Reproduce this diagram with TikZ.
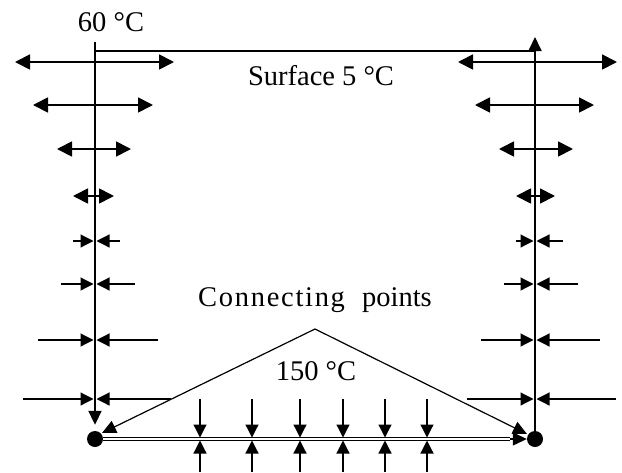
\documentclass[tikz,border=0pt]{standalone}
\usepackage{fontspec}
\setmainfont{Liberation Serif}
\usetikzlibrary{arrows.meta}
\begin{document}
\begin{tikzpicture}[x=1pt,y=-1pt,
  lbl/.style={font=\fontsize{28.5}{32}\selectfont, inner sep=0pt},
  dot/.style={circle, fill=black, minimum size=16pt, inner sep=0pt},
  axis/.style={line width=1.9pt},
  dbl/.style={line width=1.8pt, {Triangle[length=15pt,width=15pt]}-{Triangle[length=15pt,width=15pt]}},
  inw/.style={line width=1.2pt, -{Triangle[length=13pt,width=13pt]}},
  thinl/.style={line width=1.2pt}]
\useasboundingbox (0,0) rectangle (622,472);
% main points
\node[dot] (LD) at (95,439) {};
\node[dot] (RD) at (535,439) {};
\coordinate (LT) at (95,42);
\coordinate (RT) at (535,37);
\coordinate (S1) at (95,51);
\coordinate (S2) at (535,51);
\coordinate (A) at (315,329);
\coordinate (BW) at (510,439);
% axes
\draw[axis, -{Triangle[length=14pt,width=13pt]}, shorten >=6pt] (LT) -- (LD.north);
\draw[axis, -{Triangle[length=14pt,width=13pt]}] (RD.north) -- (RT);
\draw[thinl] (S1) -- (S2);
% bottom double line
\draw[line width=3.4pt] (LD.east) -- (BW);
\draw[white, line width=1.2pt] (LD.east) -- (BW);
\draw[line width=1.2pt, -{Triangle[length=14pt,width=13pt]}] (BW) -- (RD.west);
% connecting points
\draw[thinl, -{Triangle[length=14pt,width=13pt]}] (A) -- (102,433);
\draw[thinl, -{Triangle[length=14pt,width=13pt]}] (A) -- (527,434);
% left double arrows
\foreach \y/\a/\b in {62/15/174, 105/33/153, 149/57/131, 196/73/114}{
  \coordinate (la\y) at (\a,\y);
  \coordinate (lb\y) at (\b,\y);
  \draw[dbl] (la\y) -- (lb\y);
}
% right double arrows
\foreach \y/\a/\b in {62/458/617, 105/475/594, 149/499/573, 196/516/555}{
  \coordinate (ra\y) at (\a,\y);
  \coordinate (rb\y) at (\b,\y);
  \draw[dbl] (ra\y) -- (rb\y);
}
% left inward arrows
\foreach \y/\a/\b in {241/73/120, 284/61/135, 340/38/158, 399/23/171}{
  \coordinate (lia\y) at (\a,\y);
  \coordinate (lib\y) at (\b,\y);
  \coordinate (lic\y) at (93.5,\y);
  \coordinate (lid\y) at (96.5,\y);
  \draw[inw] (lia\y) -- (lic\y);
  \draw[inw] (lib\y) -- (lid\y);
}
% right inward arrows
\foreach \y/\a/\b in {241/516/563, 284/504/578, 340/481/600, 399/467/616}{
  \coordinate (ria\y) at (\a,\y);
  \coordinate (rib\y) at (\b,\y);
  \coordinate (ric\y) at (533.5,\y);
  \coordinate (rid\y) at (536.5,\y);
  \draw[inw] (ria\y) -- (ric\y);
  \draw[inw] (rib\y) -- (rid\y);
}
% bottom inward arrows
\foreach \x in {200,252,300,343,385,427}{
  \coordinate (bt\x) at (\x,399);
  \coordinate (bb\x) at (\x,472);
  \coordinate (bu\x) at (\x,437.5);
  \coordinate (bd\x) at (\x,440.5);
  \draw[inw] (bt\x) -- (bu\x);
  \draw[inw] (bb\x) -- (bd\x);
}
% labels
\node[lbl] (t60) at (111,22) {60 °C};
\node[lbl] (tsurf) at (321,76) {Surface 5 °C};
\node[lbl] (tconn) at (315,300) {{\addfontfeature{LetterSpace=6}Connecting}\hspace{0.6em}points};
\node[lbl] (t150) at (316,371) {150 °C};
\end{tikzpicture}
\end{document}
